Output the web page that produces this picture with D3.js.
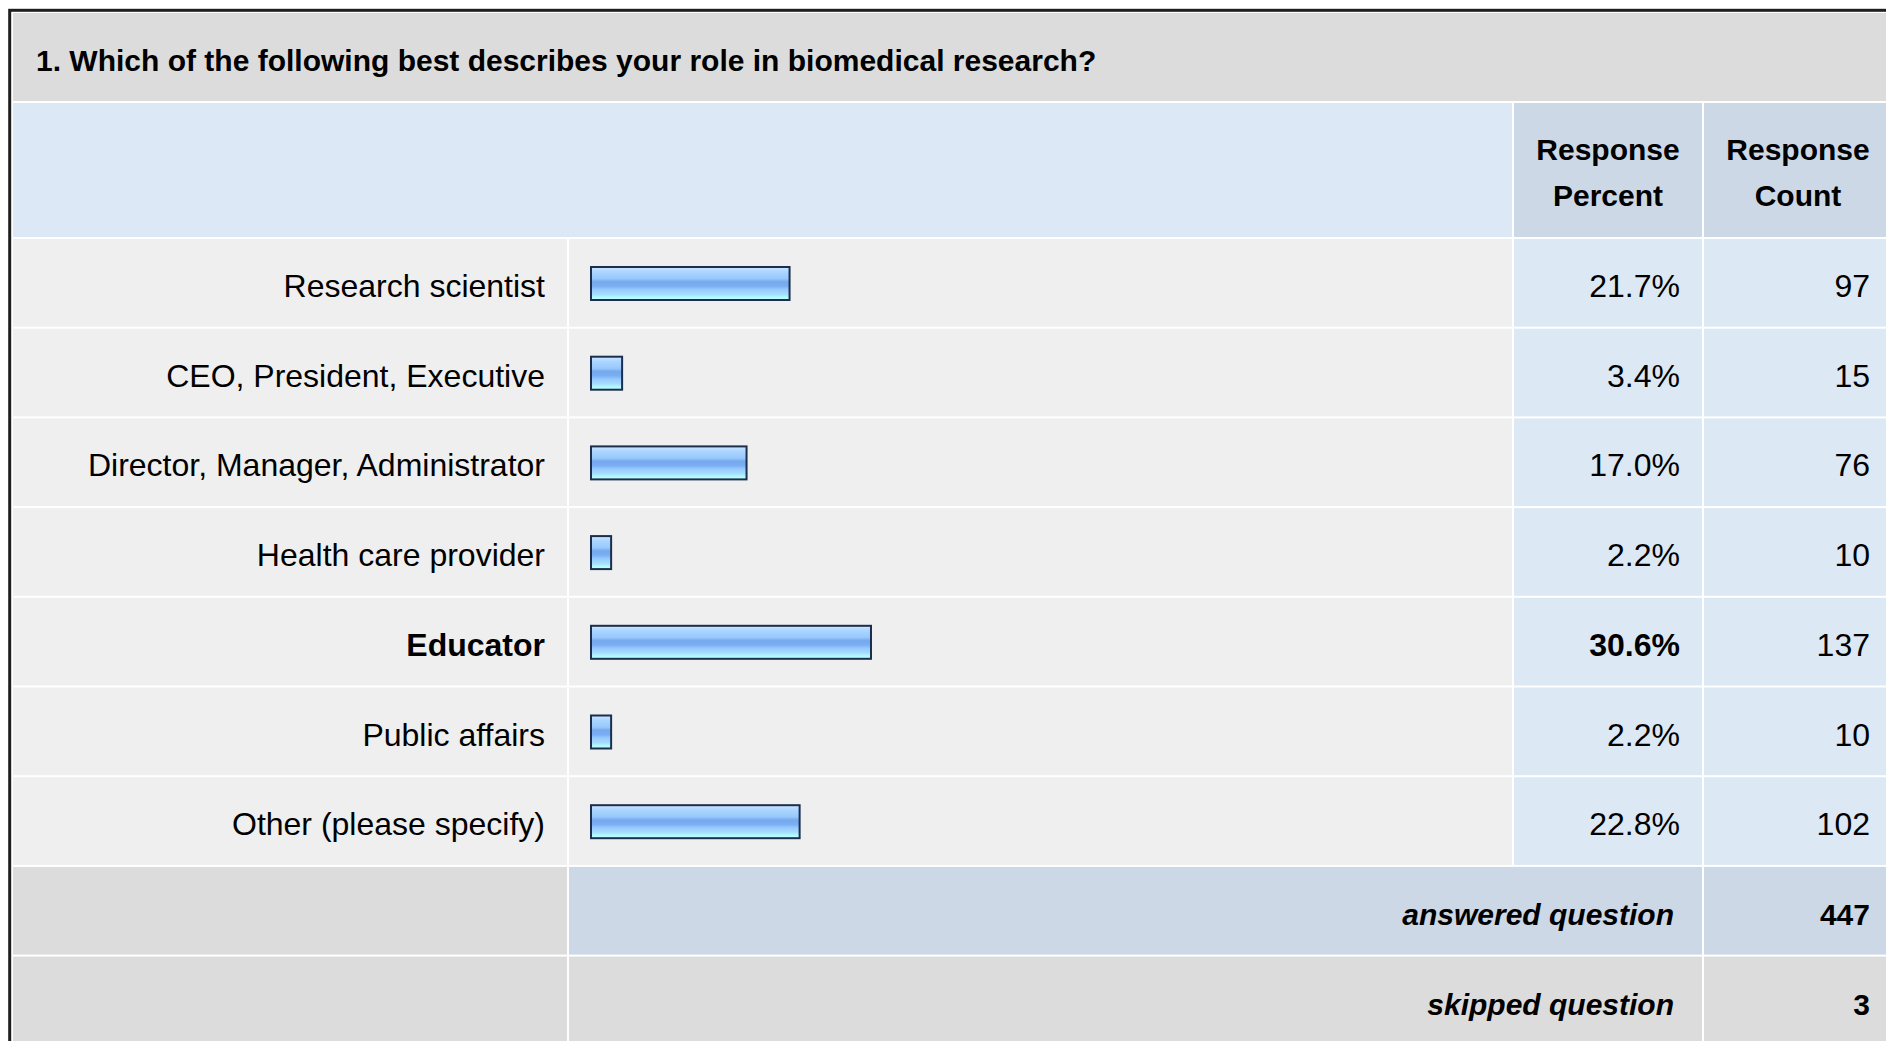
<!DOCTYPE html>
<html>
<head>
<meta charset="utf-8">
<script src="https://cdn.jsdelivr.net/npm/d3@7"></script>
<style>
  body { margin: 0; background: #fff; }
  svg { display: block; font-family: "Liberation Sans", Arial, sans-serif; }
</style>
</head>
<body>
<svg id="chart"></svg>
<script>
// Survey data
const title = "1. Which of the following best describes your role in biomedical research?";
const categories = [
    "Research scientist",
    "CEO, President, Executive",
    "Director, Manager, Administrator",
    "Health care provider",
    "Educator",
    "Public affairs",
    "Other (please specify)"
];
const percents = [21.7, 3.4, 17.0, 2.2, 30.6, 2.2, 22.8];
const counts = [97, 15, 76, 10, 137, 10, 102];
const headerLabels = [["Response", "Percent"], ["Response", "Count"]];
const summaryLabels = ["answered question", "skipped question"];
const summaryValues = [447, 3];

const width = 1886, height = 1041;

const svg = d3.select("#chart")
    .attr("width", width)
    .attr("height", height);

// gradient for the bars
const grad = svg.append("defs").append("linearGradient")
    .attr("id", "barGrad")
    .attr("x1", 0).attr("y1", 0).attr("x2", 0).attr("y2", 1);
[
    [0, "#cde7ff"], [0.15, "#aad5ff"], [0.35, "#98c9fc"], [0.45, "#76a8ee"],
    [0.58, "#7aaef1"], [0.68, "#96c9ff"], [0.82, "#a6dcff"], [0.92, "#b3fbff"], [1, "#b8ffff"]
].forEach(s => grad.append("stop").attr("offset", s[0]).attr("stop-color", s[1]));

// column edges
const col = {
    label: [13, 567],
    bar: [569, 1512],
    pct: [1514, 1702],
    cnt: [1704, 1892]
};

// outer frame
svg.append("rect")
    .attr("x", 9.7).attr("y", 10.3)
    .attr("width", 1900).attr("height", 1100)
    .attr("fill", "#fff")
    .attr("stroke", "#1e1e1e")
    .attr("stroke-width", 3);

// title row
svg.append("rect")
    .attr("x", col.label[0]).attr("y", 13)
    .attr("width", col.cnt[1] - col.label[0]).attr("height", 88)
    .attr("fill", "#dcdcdc");
svg.append("text")
    .attr("x", 36).attr("y", 71)
    .attr("font-size", 30).attr("font-weight", "bold")
    .text(title);

// header row
const headTop = 103, headH = 134;
svg.append("rect")
    .attr("x", col.label[0]).attr("y", headTop)
    .attr("width", col.bar[1] - col.label[0]).attr("height", headH)
    .attr("fill", "#dce8f5");
[col.pct, col.cnt].forEach((c, i) => {
    svg.append("rect")
        .attr("x", c[0]).attr("y", headTop)
        .attr("width", c[1] - c[0]).attr("height", headH)
        .attr("fill", "#ccd8e6");
    const t = svg.append("text")
        .attr("text-anchor", "middle")
        .attr("font-size", 30).attr("font-weight", "bold");
    headerLabels[i].forEach((line, j) => {
        t.append("tspan")
            .attr("x", (c[0] + c[1]) / 2)
            .attr("y", 160 + j * 46)
            .text(line);
    });
});

// rows
const rowStep = 89.7;
const rowKeys = categories.concat(summaryLabels);
const y = d3.scaleBand()
    .domain(rowKeys)
    .range([239, 239 + rowStep * rowKeys.length - 2])
    .paddingInner(2 / rowStep)
    .paddingOuter(0);

const x = d3.scaleLinear()
    .domain([0, 100])
    .range([0, 915]);

const maxPct = d3.max(percents);

const data = categories.map((c, i) => ({ cat: c, pct: percents[i], count: counts[i] }));

const rows = svg.selectAll(".row")
    .data(data)
    .enter().append("g")
    .attr("class", "row")
    .attr("transform", d => "translate(0," + y(d.cat) + ")");

const bh = y.bandwidth();

rows.append("rect")
    .attr("x", col.label[0]).attr("width", col.bar[1] - col.label[0])
    .attr("height", bh).attr("fill", "#efefef");
rows.append("rect")
    .attr("x", col.label[1]).attr("width", col.bar[0] - col.label[1])
    .attr("height", bh).attr("fill", "#fff");
rows.append("rect")
    .attr("x", col.pct[0]).attr("width", col.pct[1] - col.pct[0])
    .attr("height", bh).attr("fill", "#dde8f5");
rows.append("rect")
    .attr("x", col.cnt[0]).attr("width", col.cnt[1] - col.cnt[0])
    .attr("height", bh).attr("fill", "#dde8f5");

rows.append("text")
    .attr("x", 545).attr("y", 58)
    .attr("text-anchor", "end")
    .attr("font-size", 32)
    .attr("font-weight", d => d.pct === maxPct ? "bold" : "normal")
    .text(d => d.cat);

rows.append("rect")
    .attr("class", "bar")
    .attr("x", 591)
    .attr("y", 28)
    .attr("width", d => x(d.pct))
    .attr("height", 33)
    .attr("fill", "url(#barGrad)")
    .attr("stroke", "#1b2e4e")
    .attr("stroke-width", 2);

rows.append("text")
    .attr("x", 1680).attr("y", 58)
    .attr("text-anchor", "end")
    .attr("font-size", 32)
    .attr("font-weight", d => d.pct === maxPct ? "bold" : "normal")
    .text(d => d.pct.toFixed(1) + "%");

rows.append("text")
    .attr("x", 1870).attr("y", 58)
    .attr("text-anchor", "end")
    .attr("font-size", 32)
    .text(d => d.count);

// summary rows
const summaryFill = [["#dcdcdc", "#ccd8e6", "#ccd8e6"], ["#dcdcdc", "#dcdcdc", "#dcdcdc"]];
summaryLabels.forEach((lab, i) => {
    const g = svg.append("g")
        .attr("transform", "translate(0," + y(lab) + ")");
    g.append("rect")
        .attr("x", col.label[0]).attr("width", col.label[1] - col.label[0])
        .attr("height", bh).attr("fill", summaryFill[i][0]);
    g.append("rect")
        .attr("x", col.bar[0]).attr("width", col.pct[1] - col.bar[0])
        .attr("height", bh).attr("fill", summaryFill[i][1]);
    g.append("rect")
        .attr("x", col.cnt[0]).attr("width", col.cnt[1] - col.cnt[0])
        .attr("height", bh).attr("fill", summaryFill[i][2]);
    g.append("text")
        .attr("x", 1674).attr("y", 58)
        .attr("text-anchor", "end")
        .attr("font-size", 30)
        .attr("font-weight", "bold").attr("font-style", "italic")
        .text(lab);
    g.append("text")
        .attr("x", 1870).attr("y", 58)
        .attr("text-anchor", "end")
        .attr("font-size", 30)
        .attr("font-weight", "bold")
        .text(summaryValues[i]);
});
</script>
</body>
</html>
